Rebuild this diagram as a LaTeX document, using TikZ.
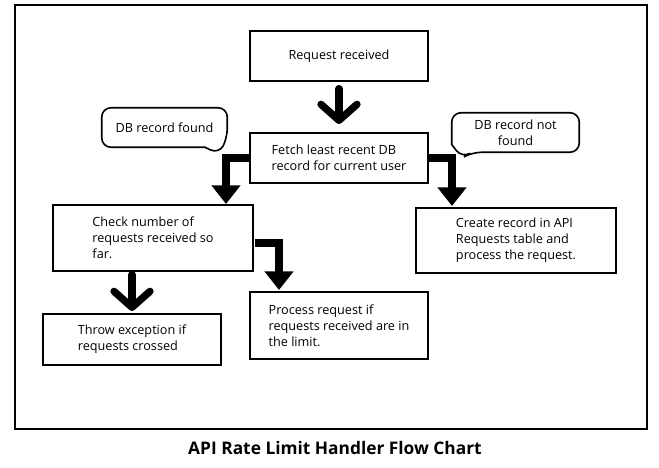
\documentclass[tikz,border=0pt]{standalone}
\usepackage{fontspec}
\setmainfont{Open Sans}
\usetikzlibrary{arrows.meta}
\usetikzlibrary{calc}

\tikzset{
  stepbox/.style={draw, line width=1.5, fill=white, align=left, inner sep=0.75pt, font=\fontsize{9.5}{12}\selectfont},
  bubtext/.style={align=center, inner sep=0.75pt, font=\fontsize{9.5}{12}\selectfont},
  bubble/.style={line width=1.2, rounded corners=7},
  chev/.style={line width=5.5, line cap=round, -{Straight Barb[round, length=12pt, width=27pt]}},
  elbow/.style={line width=6.5, line join=miter, -{Triangle[width=21pt, length=14pt]}},
}

\begin{document}
\begin{tikzpicture}[x=0.75pt,y=0.75pt,yscale=-1,xscale=1]
\useasboundingbox (0,0) rectangle (659,467);

%Shape: Rectangle [frame]
\draw [line width=1.5] (15,5) rectangle (647,429) ;

%Shape: Rectangle [req]
\node [stepbox, minimum width=133.5pt, minimum height=37.5pt] (req) at (339,56) {Request received};
%Shape: Rectangle [fetch]
\node [stepbox, minimum width=133.5pt, minimum height=37.5pt] (fetch) at (339,158) {Fetch least recent DB\\record for current user};
%Shape: Rectangle [chk]
\node [stepbox, minimum width=150pt, minimum height=49.5pt] (chk) at (153,238) {Check number of\\requests received so\\far.};
%Shape: Rectangle [create]
\node [stepbox, minimum width=150pt, minimum height=48.75pt] (create) at (516,240.5) {Create record in API\\Requests table and\\process the request.};
%Shape: Rectangle [throw]
\node [stepbox, minimum width=133.5pt, minimum height=38.25pt] (throw) at (132,339.5) {Throw exception if\\requests crossed};
%Shape: Rectangle [proc]
\node [stepbox, minimum width=133.5pt, minimum height=50.25pt] (proc) at (339,325.5) {Process request if\\requests received are in\\the limit.};

%Callout [found]
\node [bubtext, minimum width=93.75pt, minimum height=29.25pt] (found) at (164.5,127.5) {DB record found};
\coordinate (ftip) at (219,154);
\draw [bubble] (found.north) -- (found.north east) -- ($(found.east)+(0,10.5)$) -- (ftip) [sharp corners] -- ($(found.south)+(40.5,0)$) [rounded corners=7] -- (found.south west) -- (found.north west) -- cycle ;
%Callout [nfound]
\node [bubtext, minimum width=95.25pt, minimum height=29.25pt] (nfound) at (515.5,132.5) {DB record not\\found};
\coordinate (nftip) at (462,158);
\draw [bubble] (nfound.north) -- (nfound.north east) -- (nfound.south east) -- ($(nfound.south)+(-43.5,0)$) -- (nftip) [sharp corners] -- ($(nfound.west)+(0,12)$) [rounded corners=7] -- (nfound.north west) -- cycle ;

%Straight Lines [req to fetch]
\draw [chev, shorten <=5pt, shorten >=6pt] (req.south) -- (fetch.north) ;
%Straight Lines [fetch to chk]
\coordinate (tipL) at (226,204);
\draw [elbow] (fetch.west) -| (tipL) ;
%Straight Lines [fetch to create]
\coordinate (tipR) at (452,206);
\draw [elbow] (fetch.east) -| (tipR) ;
%Straight Lines [chk to proc]
\coordinate (tipP) at (279,290);
\draw [elbow] ($(chk.east)+(1,5)$) -| (tipP) ;
%Straight Lines [chk to throw]
\draw [chev, shorten <=2pt, shorten >=1.5pt] (chk.south -| throw.north) -- (throw.north) ;

% Text Node
\node [font=\fontsize{13}{15}\selectfont\bfseries, inner sep=0.75pt] (title) at (335,448) {API Rate Limit Handler Flow Chart};

\end{tikzpicture}
\end{document}
